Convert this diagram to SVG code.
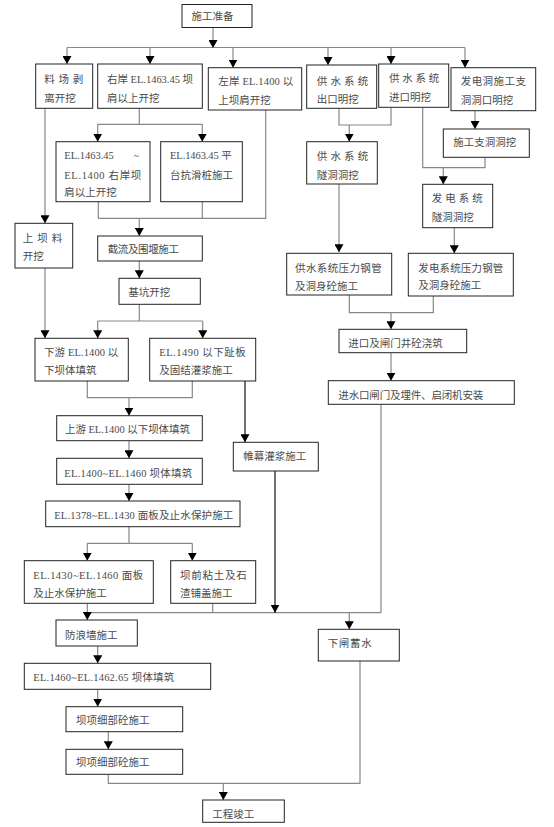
<svg xmlns="http://www.w3.org/2000/svg" width="554" height="827" viewBox="0 0 554 827">
<style>
.b{fill:#fff;stroke:#222;stroke-width:1}
.t{font-family:"Liberation Serif","Noto Sans CJK SC",serif;font-size:10.5px;fill:#4a4a4a}
.c{fill:none;stroke:#888;stroke-width:1.2}
.k{fill:none;stroke:#111;stroke-width:1.2}
</style>
<defs>
<marker id="a" markerUnits="userSpaceOnUse" markerWidth="9" markerHeight="9" refX="8" refY="4.5" orient="auto">
<path d="M0,0 L8,4.5 L0,9 z" fill="#000"/>
</marker>
</defs>
<rect width="554" height="827" fill="#fff"/>
<g id="connectors">
<path class="c" d="M67,47.5 H465"/>
<path class="c" d="M213,27 V48" marker-end="url(#a)"/>
<path class="c" d="M67,47.5 V64" marker-end="url(#a)"/>
<path class="c" d="M150,47.5 V64" marker-end="url(#a)"/>
<path class="c" d="M233,47.5 V67.7" marker-end="url(#a)"/>
<path class="c" d="M328,47.5 V65" marker-end="url(#a)"/>
<path class="c" d="M391,47.5 V64" marker-end="url(#a)"/>
<path class="c" d="M465,47.5 V67.7" marker-end="url(#a)"/>
<path class="c" d="M139.3,108.3 V124.3 M97.7,124.3 H202.3"/>
<path class="c" d="M97.7,124.3 V141.7" marker-end="url(#a)"/>
<path class="c" d="M202.3,124.3 V141.7" marker-end="url(#a)"/>
<path class="c" d="M98.3,201.7 V218.3 M202.3,201.7 V218.3 M265.7,110 V218.3 H98.3"/>
<path class="c" d="M139.3,218.3 V236" marker-end="url(#a)"/>
<path class="c" d="M45,108.3 V223.3" marker-end="url(#a)"/>
<path class="c" d="M139.3,261 V278.3" marker-end="url(#a)"/>
<path class="c" d="M139.3,304.3 V321 M97.7,321 H202.7"/>
<path class="c" d="M97.7,321 V338.3" marker-end="url(#a)"/>
<path class="c" d="M202.7,321 V338.3" marker-end="url(#a)"/>
<path class="c" d="M45,268 V338.3" marker-end="url(#a)"/>
<path class="c" d="M87.3,381 V397.7 H192.3 V381"/>
<path class="c" d="M129,397.7 V415.7" marker-end="url(#a)"/>
<path class="k" d="M245,381 V442.3" marker-end="url(#a)"/>
<path class="c" d="M129,440.7 V458.3" marker-end="url(#a)"/>
<path class="c" d="M129,484.3 V501" marker-end="url(#a)"/>
<path class="c" d="M129,526.7 V543.3 M87.3,543.3 H192.3"/>
<path class="c" d="M87.3,543.3 V560.7" marker-end="url(#a)"/>
<path class="c" d="M192.3,543.3 V560.7" marker-end="url(#a)"/>
<path class="c" d="M87.3,612.7 H381 M212.7,603.3 V612.7 M381,404.3 V612.7"/>
<path class="c" d="M87.3,603.3 V620" marker-end="url(#a)"/>
<path class="k" d="M275,471 V612.7" marker-end="url(#a)"/>
<path class="c" d="M349.3,612.7 V629.3" marker-end="url(#a)"/>
<path class="c" d="M97.7,646 V663.3" marker-end="url(#a)"/>
<path class="c" d="M97.7,689.3 V706.7" marker-end="url(#a)"/>
<path class="c" d="M108.3,731.7 V749.3" marker-end="url(#a)"/>
<path class="c" d="M108.3,774.3 V783.3 H360 V661"/>
<path class="c" d="M223.3,783.3 V800" marker-end="url(#a)"/>
<path class="c" d="M339,108.3 V125 H391 V107.3"/>
<path class="c" d="M349.3,125 V141.7" marker-end="url(#a)"/>
<path class="c" d="M475,110.7 V129" marker-end="url(#a)"/>
<path class="c" d="M422.7,107.3 V167.7 H485 V157.3"/>
<path class="c" d="M443.3,167.7 V184.3" marker-end="url(#a)"/>
<path class="c" d="M339,184 V252.3" marker-end="url(#a)"/>
<path class="c" d="M454.3,227.7 V253.3" marker-end="url(#a)"/>
<path class="c" d="M349.3,295 V312.7 H433.3 V296"/>
<path class="c" d="M391,312.7 V329.3" marker-end="url(#a)"/>
<path class="c" d="M391,352.7 V380.7" marker-end="url(#a)"/>
</g>
<g id="n1"><rect class="b" x="182" y="4.5" width="70" height="23"/><text class="t" x="191.5" y="19.5">施工准备</text></g>
<g id="n2"><rect class="b" x="35.7" y="64" width="57" height="44.3"/><text class="t" x="44.3" y="83" textLength="39" lengthAdjust="spacing">料 场 剥</text><text class="t" x="44.3" y="102">离开挖</text></g>
<g id="n3"><rect class="b" x="97.7" y="64" width="104.6" height="44.3"/><text class="t" x="107" y="83" textLength="86" lengthAdjust="spacing">右岸 EL.1463.45 坝</text><text class="t" x="107" y="102">肩以上开挖</text></g>
<g id="n4"><rect class="b" x="208.3" y="67.7" width="93.4" height="42.3"/><text class="t" x="218.3" y="85.4" textLength="75" lengthAdjust="spacing">左岸 EL.1400 以</text><text class="t" x="218.3" y="103.7">上坝肩开挖</text></g>
<g id="n5"><rect class="b" x="306.7" y="65" width="70" height="43.3"/><text class="t" x="316.7" y="84.7" textLength="51.6" lengthAdjust="spacing">供 水 系 统</text><text class="t" x="316.7" y="102.7">出口明挖</text></g>
<g id="n6"><rect class="b" x="378.7" y="64" width="70" height="43.3"/><text class="t" x="389" y="82" textLength="50.3" lengthAdjust="spacing">供 水 系 统</text><text class="t" x="389" y="101">进口明挖</text></g>
<g id="n7"><rect class="b" x="451" y="67.7" width="84.7" height="43"/><text class="t" x="460.7" y="85.4" textLength="65.3" lengthAdjust="spacing">发电洞施工支</text><text class="t" x="460.7" y="103.7">洞洞口明挖</text></g>
<g id="n8"><rect class="b" x="56" y="141.7" width="94" height="60"/><text class="t" x="64.3" y="158.7">EL.1463.45<tspan x="133.5">~</tspan></text><text class="t" x="64.3" y="178.7" textLength="77" lengthAdjust="spacing">EL.1400 右岸坝</text><text class="t" x="64.3" y="196">肩以上开挖</text></g>
<g id="n9"><rect class="b" x="160.7" y="141.7" width="81.6" height="60"/><text class="t" x="170" y="158.7" textLength="61.7" lengthAdjust="spacing">EL.1463.45 平</text><text class="t" x="170" y="178.7">台抗滑桩施工</text></g>
<g id="n10"><rect class="b" x="15" y="223.3" width="57.7" height="44.7"/><text class="t" x="22.7" y="242" textLength="39.6" lengthAdjust="spacing">上 坝 料</text><text class="t" x="22.7" y="260.4">开挖</text></g>
<g id="n11"><rect class="b" x="97.7" y="236" width="104.6" height="25"/><text class="t" x="107.7" y="253" textLength="71.3" lengthAdjust="spacing">截流及围堰施工</text></g>
<g id="n12"><rect class="b" x="119" y="278.3" width="81.3" height="26"/><text class="t" x="128.3" y="296.4">基坑开挖</text></g>
<g id="n13"><rect class="b" x="35" y="338.3" width="93.3" height="42.7"/><text class="t" x="44" y="356" textLength="74.3" lengthAdjust="spacing">下游 EL.1400 以</text><text class="t" x="44" y="373.7">下坝体填筑</text></g>
<g id="n14"><rect class="b" x="149.7" y="338.3" width="106" height="42.7"/><text class="t" x="159.3" y="356" textLength="86.4" lengthAdjust="spacing">EL.1490 以下趾板</text><text class="t" x="159.3" y="373.7">及固结灌浆施工</text></g>
<g id="n15"><rect class="b" x="56.7" y="415.7" width="145.6" height="25"/><text class="t" x="65" y="433" textLength="125" lengthAdjust="spacing">上游 EL.1400 以下坝体填筑</text></g>
<g id="n16"><rect class="b" x="233.3" y="442.3" width="85" height="28.7"/><text class="t" x="243.3" y="460.4">帷幕灌浆施工</text></g>
<g id="n17"><rect class="b" x="56.7" y="458.3" width="145.6" height="26"/><text class="t" x="64.3" y="477" textLength="128" lengthAdjust="spacing">EL.1400~EL.1460 坝体填筑</text></g>
<g id="n18"><rect class="b" x="45.7" y="501" width="194.3" height="25.7"/><text class="t" x="54.3" y="518.7" textLength="179" lengthAdjust="spacing">EL.1378~EL.1430 面板及止水保护施工</text></g>
<g id="n19"><rect class="b" x="24.3" y="560.7" width="129" height="42.6"/><text class="t" x="33.3" y="578.7" textLength="110" lengthAdjust="spacing">EL.1430~EL.1460 面板</text><text class="t" x="33.3" y="597">及止水保护施工</text></g>
<g id="n20"><rect class="b" x="170.7" y="560.7" width="85" height="42.6"/><text class="t" x="180" y="578.7" textLength="66.7" lengthAdjust="spacing">坝前粘土及石</text><text class="t" x="180" y="597">渣铺盖施工</text></g>
<g id="n21"><rect class="b" x="56" y="620" width="81.3" height="26"/><text class="t" x="65" y="638.7">防浪墙施工</text></g>
<g id="n22"><rect class="b" x="318.3" y="629.3" width="81" height="31.7"/><text class="t" x="327.7" y="647" textLength="44" lengthAdjust="spacing">下闸蓄水</text></g>
<g id="n23"><rect class="b" x="24.3" y="663.3" width="186.4" height="26"/><text class="t" x="33.3" y="681.4" textLength="141" lengthAdjust="spacing">EL.1460~EL.1462.65 坝体填筑</text></g>
<g id="n24"><rect class="b" x="66" y="706.7" width="116.7" height="25"/><text class="t" x="76" y="723.7">坝项细部砼施工</text></g>
<g id="n25"><rect class="b" x="66" y="749.3" width="116.7" height="25"/><text class="t" x="76" y="766.4">坝项细部砼施工</text></g>
<g id="n26"><rect class="b" x="202.7" y="800" width="81.6" height="22.3"/><text class="t" x="212.3" y="817.7">工程竣工</text></g>
<g id="n27"><rect class="b" x="306.7" y="141.7" width="70.6" height="42.3"/><text class="t" x="316.7" y="160.4" textLength="51.6" lengthAdjust="spacing">供 水 系 统</text><text class="t" x="316.7" y="178.7">隧洞洞挖</text></g>
<g id="n28"><rect class="b" x="443.3" y="129" width="86" height="28.3"/><text class="t" x="453.3" y="146.4">施工支洞洞挖</text></g>
<g id="n29"><rect class="b" x="422.7" y="184.3" width="70" height="43.4"/><text class="t" x="431.7" y="202" textLength="51" lengthAdjust="spacing">发 电 系 统</text><text class="t" x="431.7" y="221">隧洞洞挖</text></g>
<g id="n30"><rect class="b" x="286.7" y="253.3" width="105" height="41.7"/><text class="t" x="295" y="272" textLength="86.7" lengthAdjust="spacing">供水系统压力钢管</text><text class="t" x="295" y="290.4">及洞身砼施工</text></g>
<g id="n31"><rect class="b" x="408.3" y="253.3" width="105" height="42.7"/><text class="t" x="418.3" y="272" textLength="85" lengthAdjust="spacing">发电系统压力钢管</text><text class="t" x="418.3" y="288.7">及洞身砼施工</text></g>
<g id="n32"><rect class="b" x="339" y="329.3" width="127.7" height="23.4"/><text class="t" x="348.3" y="347">进口及闸门井砼浇筑</text></g>
<g id="n33"><rect class="b" x="328.3" y="380.7" width="186" height="23.6"/><text class="t" x="338.3" y="398.7" textLength="145" lengthAdjust="spacing">进水口闸门及埋件、启闭机安装</text></g>
</svg>
